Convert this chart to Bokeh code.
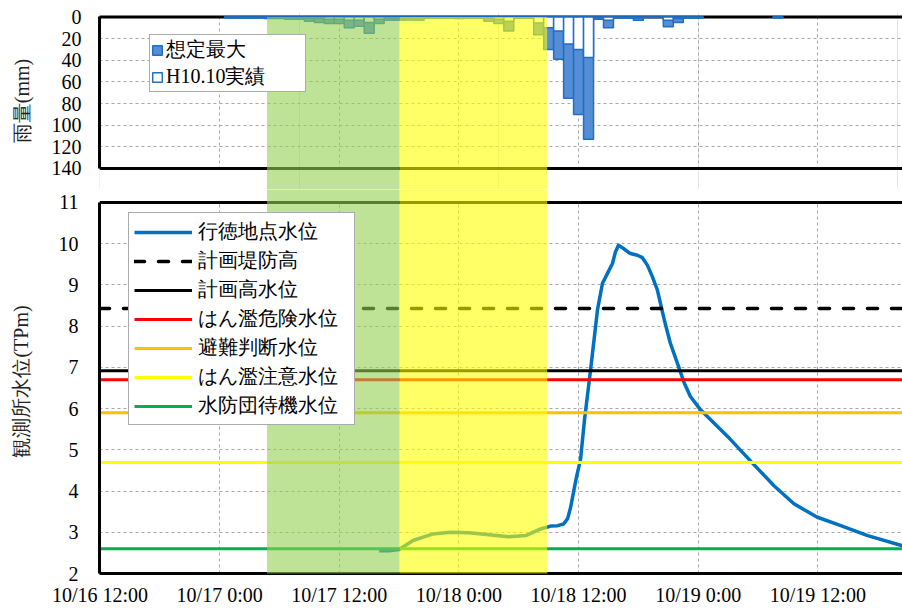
from bokeh.plotting import figure
from bokeh.models import Range1d, FixedTicker, Span, BoxAnnotation, Legend, LegendItem, Grid
from bokeh.layouts import column
from bokeh.embed import file_html
from bokeh.resources import INLINE

FONT = "Liberation Serif"

# ---- data (x = hours since 10/16 12:00) ----
x_ticks = [0, 12, 24, 36, 48, 60, 72]
x_tick_labels = ["10/16 12:00", "10/17 0:00", "10/17 12:00", "10/18 0:00",
                 "10/18 12:00", "10/19 0:00", "10/19 12:00"]
rain_ticks = [0, 20, 40, 60, 80, 100, 120, 140]
level_ticks = [2, 3, 4, 5, 6, 7, 8, 9, 10, 11]

rain_names = ["想定最大", "H10.10実績"]
rain_hours = [13, 14, 15, 16, 17, 18, 19, 20, 21, 22,
              23, 24, 25, 26, 27, 28, 29, 30, 31, 32,
              33, 34, 35, 36, 37, 38, 39, 40, 41, 42,
              43, 44, 45, 46, 47, 48, 49, 50, 51, 52,
              53, 54, 55, 56, 57, 58, 59, 60, 68]
rain_max = [1, 1, 1, 1, 1.5, 1.5, 2, 2, 4, 5,
            6, 6, 10, 8.5, 15, 6, 3, 3, 3, 3,
            1, 1, 1, 1.5, 1, 1, 4, 6, 13, 1,
            1, 16.5, 30, 39, 75, 90, 113, 2, 10, 1,
            1, 3, 0.5, 0.5, 9, 5, 1, 1, 1]
rain_actual = [0.5, 0.5, 0.5, 0.5, 0.5, 0.5, 0.5, 1, 1.5, 1.5,
               2, 2, 3, 3, 5, 2, 1, 1, 1, 1,
               0.5, 0.5, 0.5, 0.5, 0.5, 0.5, 1.5, 2, 4, 0.5,
               0.5, 5.5, 10, 13, 25, 30, 37.5, 1, 3, 0.5,
               0.5, 1, 0.2, 0.2, 3, 1.5, 0.5, 0.5, 0.5]

level_name = "行徳地点水位"
level_hours = [28.0, 29.0, 30.0, 31.4, 33.4, 35.1, 37.0, 39.0, 41.0, 42.7,
               44.2, 45.2, 45.9, 46.5, 46.9, 47.2, 47.5, 47.8, 48.2, 48.6,
               49.2, 49.9, 50.4, 50.9, 51.4, 51.7, 52.0, 52.4, 53.2, 53.9,
               54.4, 54.9, 55.4, 55.9, 56.6, 57.2, 57.9, 58.6, 59.2, 60.2,
               61.2, 63.2, 65.4, 67.6, 69.6, 71.9, 74.3, 77.0, 80.5]
level_values = [2.55, 2.55, 2.58, 2.80, 2.96, 3.00, 2.99, 2.94, 2.89, 2.92,
                3.08, 3.15, 3.16, 3.20, 3.33, 3.60, 3.98, 4.35, 4.77, 5.74,
                6.93, 8.40, 9.04, 9.28, 9.52, 9.80, 9.96, 9.90, 9.76, 9.72,
                9.66, 9.48, 9.20, 8.88, 8.15, 7.59, 7.11, 6.62, 6.30, 5.98,
                5.74, 5.26, 4.69, 4.13, 3.69, 3.37, 3.16, 2.92, 2.67]

threshold_names = ["計画堤防高", "計画高水位", "はん濫危険水位", "避難判断水位",
                   "はん濫注意水位", "水防団待機水位"]
threshold_values = [8.43, 6.92, 6.70, 5.90, 4.69, 2.60]
threshold_colors = ["#000000", "#000000", "#FF0000", "#FFC000", "#FFFF00", "#00B050"]
threshold_dashes = ["10 14", "solid", "solid", "solid", "solid", "solid"]

band_starts = [16.75, 30.05]
band_ends = [30.05, 44.85]
band_colors = ["#92D050", "#FFFF00"]

# ---- view extents ----
X_START, X_END = -0.05, 80.49
RAIN_VIEW = (159.41, -4.158)      # reversed: bottom, top
LEVEL_VIEW = (2.0, 11.3137)
LEVEL_BAND_BOTTOM = 1.928

GRID_COLOR = "#A8A8A8"
BLUE = "#0070C0"
BAR_LINE = "#1F6FC5"


def style_axis(ax, standoff, label_standoff):
    ax.axis_line_width = 3
    ax.axis_line_color = "black"
    ax.major_tick_out = 0
    ax.major_tick_in = 0
    ax.major_tick_line_color = None
    ax.minor_tick_line_color = None
    ax.major_label_text_font = FONT
    ax.major_label_text_font_size = "20px"
    ax.major_label_text_color = "black"
    ax.major_label_standoff = standoff
    ax.axis_label_text_font = FONT
    ax.axis_label_text_font_size = "20px"
    ax.axis_label_text_font_style = "normal"
    ax.axis_label_text_color = "#222222"
    ax.axis_label_standoff = label_standoff


xr = Range1d(X_START, X_END)

# ---------------- rain panel ----------------
top = figure(width=902, height=189, x_range=xr, y_range=Range1d(*RAIN_VIEW),
             x_axis_location=None, title=None, output_backend="svg",
             toolbar_location=None, min_border_left=99, min_border_right=0,
             min_border_top=12, min_border_bottom=0)
top.outline_line_color = None
ya = top.yaxis[0]
ya.ticker = FixedTicker(ticks=rain_ticks)
ya.bounds = (rain_ticks[0], rain_ticks[-1])
ya.axis_label = "雨量(mm)"
style_axis(ya, 18, 16)
top.ygrid.grid_line_color = GRID_COLOR
top.ygrid.grid_line_dash = "3 3"
top.add_layout(Grid(dimension=0, ticker=FixedTicker(ticks=x_ticks),
                    cross_bounds=(rain_ticks[0], rain_ticks[-1]),
                    grid_line_color=GRID_COLOR, grid_line_dash="3 3"))
for loc in (rain_ticks[0], rain_ticks[-1]):
    top.add_layout(Span(location=loc, dimension="width", line_color="black",
                        line_width=3, level="underlay"))

r_max = top.vbar(x=rain_hours, width=1, top=rain_max, bottom=0,
                 fill_color="#558ED5", line_color=BAR_LINE, line_width=1.5)
r_act = top.vbar(x=rain_hours, width=1, top=rain_actual, bottom=0,
                 fill_color="white", line_color=BAR_LINE, line_width=1.5)

leg1 = Legend(items=[LegendItem(label=rain_names[0], renderers=[r_max]),
                     LegendItem(label=rain_names[1], renderers=[r_act])],
              location=(50, 97), margin=0, padding=1, spacing=-4,
              glyph_width=12, glyph_height=12, label_height=24, label_width=138,
              label_standoff=3, label_text_font=FONT, label_text_font_size="20px",
              label_text_color="black", border_line_color="#595959",
              border_line_width=1, background_fill_alpha=1.0)
top.add_layout(leg1)

for s, e, c in zip(band_starts, band_ends, band_colors):
    top.add_layout(BoxAnnotation(left=s, right=e, top=rain_ticks[0],
                                 bottom=RAIN_VIEW[0] + 10, fill_color=c,
                                 fill_alpha=0.6, line_color=None, level="overlay"))

# ---------------- water level panel ----------------
bot = figure(width=902, height=419, x_range=xr, y_range=Range1d(*LEVEL_VIEW),
             title=None, output_backend="svg", toolbar_location=None,
             min_border_left=99, min_border_right=0, min_border_top=0,
             min_border_bottom=33)
bot.outline_line_color = None
xa = bot.xaxis[0]
xa.ticker = FixedTicker(ticks=x_ticks)
xa.major_label_overrides = {t: lab for t, lab in zip(x_ticks, x_tick_labels)}
style_axis(xa, 10, 0)
ya2 = bot.yaxis[0]
ya2.ticker = FixedTicker(ticks=level_ticks)
ya2.bounds = (level_ticks[0], level_ticks[-1])
ya2.axis_label = "観測所水位(TPm)"
style_axis(ya2, 21, 24)
bot.xgrid.grid_line_color = GRID_COLOR
bot.xgrid.grid_line_dash = "3 3"
bot.xgrid.cross_bounds = (level_ticks[0], level_ticks[-1])
bot.ygrid.grid_line_color = GRID_COLOR
bot.ygrid.grid_line_dash = "3 3"
bot.add_layout(Span(location=level_ticks[-1], dimension="width", line_color="black",
                    line_width=3))

items = []
r_lv = bot.line(level_hours, level_values, line_color=BLUE, line_width=3.5,
                line_join="round")
items.append(LegendItem(label=level_name, renderers=[r_lv]))
for name, v, c, d in zip(threshold_names, threshold_values, threshold_colors, threshold_dashes):
    r = bot.line([X_START, X_END], [v, v], line_color=c, line_width=3.5 if d != "solid" else 3,
                 line_dash=d, line_cap="round" if d != "solid" else "butt")
    items.append(LegendItem(label=name, renderers=[r]))

leg2 = Legend(items=items, location=(29, 148), margin=0, padding=5, spacing=2,
              glyph_width=58, glyph_height=24, label_height=24, label_width=151,
              label_standoff=6, label_text_font=FONT, label_text_font_size="20px",
              label_text_color="black", border_line_color="#595959",
              border_line_width=1, background_fill_alpha=1.0)
bot.add_layout(leg2)

for s, e, c in zip(band_starts, band_ends, band_colors):
    bot.add_layout(BoxAnnotation(left=s, right=e, top=LEVEL_VIEW[1] + 1,
                                 bottom=LEVEL_BAND_BOTTOM, fill_color=c, fill_alpha=0.6,
                                 line_color=None, level="overlay"))

layout = column(top, bot, spacing=0)
open("out.html", "w").write(file_html(layout, INLINE))
